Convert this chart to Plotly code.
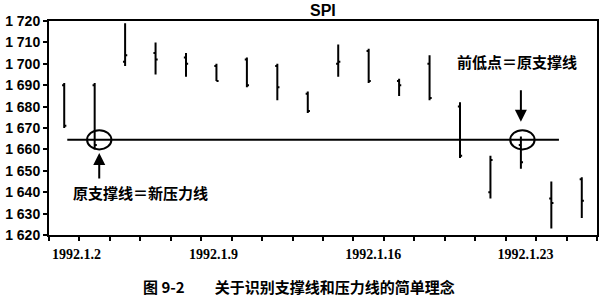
import plotly.graph_objects as go

# ---- data ----
dates = ["1992.1.2", "1992.1.3", "1992.1.6", "1992.1.7", "1992.1.8", "1992.1.9",
         "1992.1.10", "1992.1.13", "1992.1.14", "1992.1.15", "1992.1.16", "1992.1.17",
         "1992.1.20", "1992.1.21", "1992.1.22", "1992.1.23", "1992.1.24", "1992.1.28"]
opens  = [1690, 1690, 1701, 1705, 1703, 1699, 1702, 1699, 1686, 1700, 1706, 1692,
          1700, 1680, 1640, 1662, 1637, 1646]
highs  = [1691, 1691, 1719, 1710, 1705, 1700, 1703, 1700, 1687, 1709, 1707, 1693,
          1704, 1682, 1657, 1666, 1645, 1647]
lows   = [1670, 1660, 1699, 1695, 1694, 1692, 1689, 1683, 1677, 1694, 1691, 1685,
          1683, 1656, 1637, 1651, 1623, 1628]
closes = [1671, 1662, 1704, 1702, 1700, 1692, 1690, 1689, 1678, 1701, 1692, 1690,
          1684, 1657, 1655, 1654, 1635, 1636]

y_ticks = [1620, 1630, 1640, 1650, 1660, 1670, 1680, 1690, 1700, 1710, 1720]
y_tick_text = ["1 620", "1 630", "1 640", "1 650", "1 660", "1 670", "1 680",
               "1 690", "1 700", "1 710", "1 720"]
x_label_idx = [0, 5, 10, 15]

support = 1664.5
touch_idx = [1, 15]

title = "SPI"
note_top = "前低点＝原支撑线"
note_bottom = "原支撑线＝新压力线"
caption = "图 9-2　　关于识别支撑线和压力线的简单理念"

x = list(range(len(dates)))

fig = go.Figure()
fig.add_trace(go.Ohlc(
    x=x, open=opens, high=highs, low=lows, close=closes,
    increasing=dict(line=dict(color="black", width=2)),
    decreasing=dict(line=dict(color="black", width=2)),
    tickwidth=0.07, showlegend=False, hoverinfo="skip",
))

# support / resistance line
fig.add_trace(go.Scatter(
    x=[0.1, 16.25], y=[support, support], mode="lines",
    line=dict(color="black", width=2), showlegend=False, hoverinfo="skip",
))

shapes = []
offs = [0.15, 0.05]
for i, o in zip(touch_idx, offs):
    cx = i + o
    shapes.append(dict(type="circle", xref="x", yref="y",
                       x0=cx - 0.4, x1=cx + 0.4,
                       y0=support - 4.5, y1=support + 4.5,
                       line=dict(color="black", width=2)))

label_shift = [0.4, -0.1, 0.15, 0.15]
tickvals = [i + s for i, s in zip(x_label_idx, label_shift)]
ticktext = [dates[i] for i in x_label_idx]

annotations = [
    dict(x=touch_idx[0] + 0.15, y=support - 6.2, xref="x", yref="y",
         ax=0, ay=27, showarrow=True, arrowhead=2, arrowsize=1.2,
         arrowwidth=2, arrowcolor="black", text=""),
    dict(x=touch_idx[1] + 0.0, y=support + 8.4, xref="x", yref="y",
         ax=0, ay=-33, showarrow=True, arrowhead=2, arrowsize=1.2,
         arrowwidth=2, arrowcolor="black", text=""),
    dict(x=14.87, y=1701, xref="x", yref="y", showarrow=False,
         text="<b>" + note_top + "</b>",
         font=dict(family="Noto Sans CJK SC", size=15, color="black")),
    dict(x=2.51, y=1639.7, xref="x", yref="y", showarrow=False,
         text="<b>" + note_bottom + "</b>",
         font=dict(family="Noto Sans CJK SC", size=15, color="black")),
    dict(x=0.5, y=1 + (21.5 - 11) / 213.5, xref="paper", yref="paper", showarrow=False,
         text="<b>" + title + "</b>", yanchor="middle",
         font=dict(family="Liberation Sans", size=16, color="black")),
    dict(x=(299 - 47) / 552, y=-(286 - 235) / 213.5,
         xref="paper", yref="paper", showarrow=False,
         text="<b>" + caption + "</b>", yanchor="middle",
         font=dict(family="Noto Sans CJK SC", size=15, color="black")),
]

fig.update_layout(
    width=604, height=303,
    margin=dict(l=47, r=5, t=21, b=68, pad=0),
    paper_bgcolor="white", plot_bgcolor="white",
    shapes=shapes, annotations=annotations,
    xaxis=dict(
        range=[-0.5, len(dates) - 0.5], rangeslider=dict(visible=False),
        showgrid=False, zeroline=False, showline=True, linecolor="black",
        linewidth=2, mirror=True,
        tickmode="array", tickvals=tickvals, ticktext=ticktext, ticks="",
        tickfont=dict(family="Liberation Serif", size=14, color="black", weight="bold"),
        minor=dict(tickmode="array", tickvals=[i - 0.5 for i in range(len(dates) + 1)],
                   ticks="outside", ticklen=4, tickwidth=1.5, tickcolor="black"),
        ticklabelstandoff=5,
    ),
    yaxis=dict(
        range=[1620, 1720], showgrid=False, zeroline=False, showline=True,
        linecolor="black", linewidth=2, mirror=True,
        tickmode="array", tickvals=y_ticks, ticktext=y_tick_text,
        ticks="outside", ticklen=4, tickwidth=1.5, tickcolor="black",
        tickfont=dict(family="Liberation Sans", size=14, color="black", weight="bold"),
    ),
)

fig.write_html("out.html")
